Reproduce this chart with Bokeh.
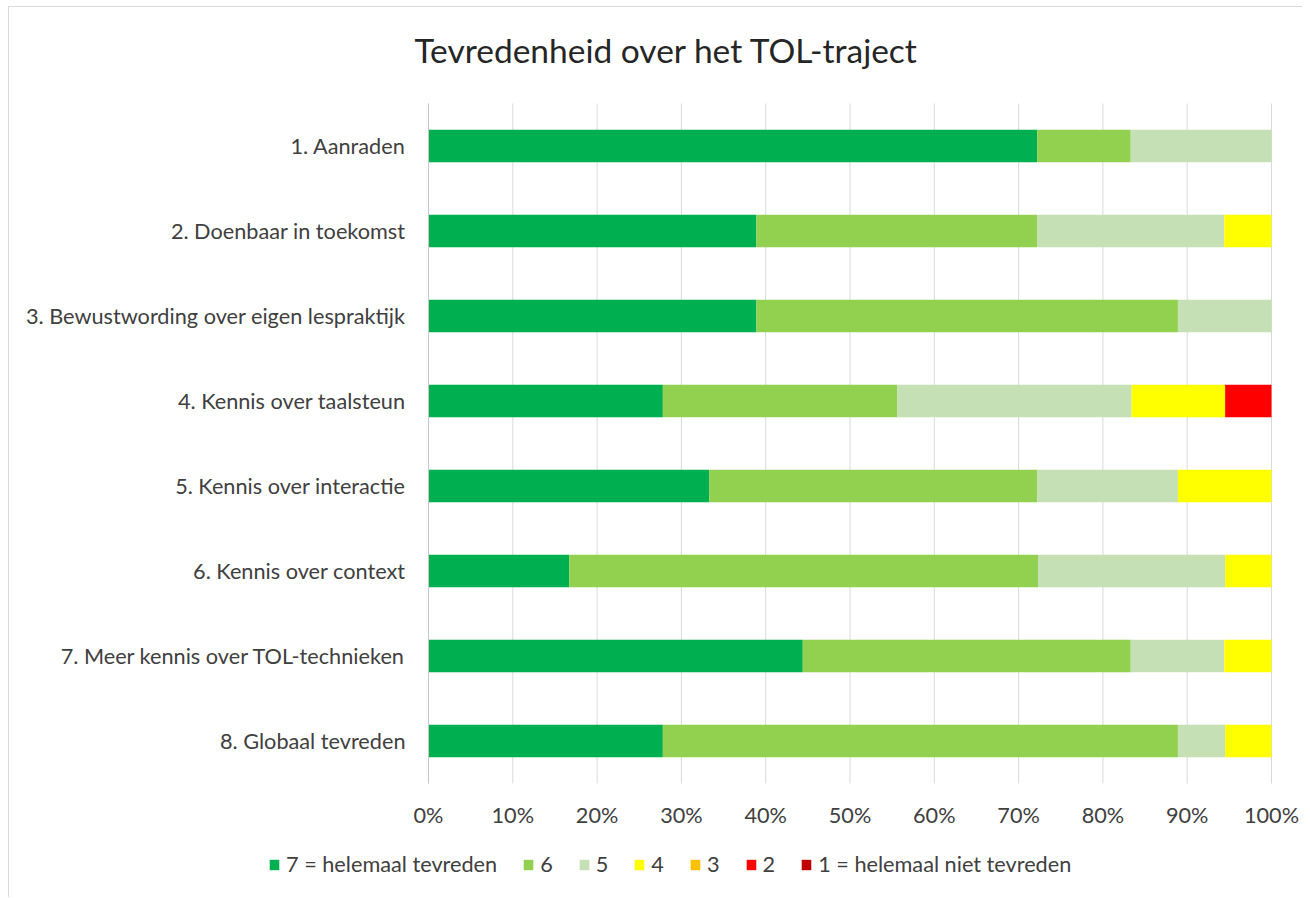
from bokeh.plotting import figure
from bokeh.layouts import column
from bokeh.models import (ColumnDataSource, Legend, Label, PrintfTickFormatter, FixedTicker,
                          FactorRange, Range1d, Spacer)
from bokeh.embed import file_html
from bokeh.resources import INLINE

categories = ["1. Aanraden", "2. Doenbaar in toekomst", "3. Bewustwording over eigen lespraktijk",
              "4. Kennis over taalsteun", "5. Kennis over interactie", "6. Kennis over context",
              "7. Meer kennis over TOL-technieken", "8. Globaal tevreden"]
s7 = [72.2, 38.9, 38.9, 27.8, 33.3, 16.7, 44.4, 27.8]
s6 = [11.1, 33.3, 50.0, 27.8, 38.9, 55.6, 38.9, 61.1]
s5 = [16.7, 22.2, 11.1, 27.8, 16.7, 22.2, 11.1, 5.6]
s4 = [0.0, 5.6, 0.0, 11.1, 11.1, 5.5, 5.6, 5.5]
s3 = [0.0, 0.0, 0.0, 0.0, 0.0, 0.0, 0.0, 0.0]
s2 = [0.0, 0.0, 0.0, 5.5, 0.0, 0.0, 0.0, 0.0]
s1 = [0.0, 0.0, 0.0, 0.0, 0.0, 0.0, 0.0, 0.0]
series_names = ["7 = helemaal tevreden", "6", "5", "4", "3", "2", "1 = helemaal niet tevreden"]
colors = ["#00B050", "#92D050", "#C5E0B4", "#FFFF00", "#FFC000", "#FF0000", "#C00000"]
x_ticks = [0, 10, 20, 30, 40, 50, 60, 70, 80, 90, 100]
title_text = "Tevredenheid over het TOL-traject"

keys = ["s7", "s6", "s5", "s4", "s3", "s2", "s1"]
source = ColumnDataSource(dict(cat=categories, s7=s7, s6=s6, s5=s5, s4=s4, s3=s3, s2=s2, s1=s1))

FONT = "Lato"
FS = "21.7px"
TXT = "#404040"

# layout constants (pixels)
W, H = 1293, 872
PLOT_L, PLOT_R = 419, 1262          # 0% and 100% positions inside the figure
BAND_T, BAND_B = 96, 776            # top / bottom of the category band
n_cat = len(categories)

px_per_unit = (PLOT_R - PLOT_L) / 100.0
x_range = Range1d(-PLOT_L / px_per_unit, 100 + (W - PLOT_R) / px_per_unit)
pad_frac = 2 * BAND_T / (BAND_B - BAND_T)
y_range = FactorRange(factors=list(reversed(categories)), range_padding=pad_frac)

p = figure(width=W, height=H, x_range=x_range, y_range=y_range,
           output_backend="svg", toolbar_location=None,
           min_border_left=0, min_border_right=0, min_border_top=0, min_border_bottom=0)
p.outline_line_color = None
p.xgrid.grid_line_color = None
p.ygrid.grid_line_color = None

# vertical gridlines limited to the category band
p.segment(x0=x_ticks, y0=[0] * len(x_ticks), x1=x_ticks, y1=[n_cat] * len(x_ticks),
          line_color="#d9d9d9", line_width=1)

renderers = p.hbar_stack(keys, y="cat", height=0.38, color=colors, line_color=None, source=source)

# x axis pinned to the bottom of the band
p.xaxis.fixed_location = 0
p.xaxis.ticker = FixedTicker(ticks=x_ticks)
p.xaxis.formatter = PrintfTickFormatter(format="%d%%")
p.xaxis.axis_line_color = None
p.xaxis.major_tick_line_color = None
p.xaxis.minor_tick_line_color = None
p.xaxis.major_label_standoff = 12
p.xaxis.major_label_text_font = FONT
p.xaxis.major_label_text_font_size = FS
p.xaxis.major_label_text_color = TXT

# category axis pinned at 0%
p.yaxis.fixed_location = 0
p.yaxis.bounds = (0, n_cat)
p.yaxis.axis_line_color = "#c8c8c8"
p.yaxis.major_tick_line_color = None
p.yaxis.minor_tick_line_color = None
p.yaxis.major_label_standoff = 17
p.yaxis.major_label_text_font = FONT
p.yaxis.major_label_text_font_size = FS
p.yaxis.major_label_text_color = TXT

# title
p.add_layout(Label(x=657, y=H - 42, x_units="screen", y_units="screen", text=title_text,
                   text_align="center", text_baseline="middle", text_font=FONT,
                   text_font_size="33.5px", text_color="#262626"))

# legend
legend = Legend(items=[(n, [r]) for n, r in zip(series_names, renderers)],
                orientation="horizontal", location=(259, 2),
                glyph_width=12, glyph_height=13, label_text_font=FONT, label_text_font_size=FS,
                label_text_color=TXT, padding=0, margin=0, spacing=25, label_standoff=6,
                label_width=10, border_line_color=None, background_fill_alpha=0)
p.add_layout(legend, "center")

layout = column(p, Spacer(width=W, height=18), spacing=0)
layout.styles = {"border-left": "1px solid #d9d9d9", "border-top": "1px solid #d9d9d9",
                 "margin-left": "8px", "margin-top": "6px"}

open("out.html", "w").write(file_html(layout, INLINE))
